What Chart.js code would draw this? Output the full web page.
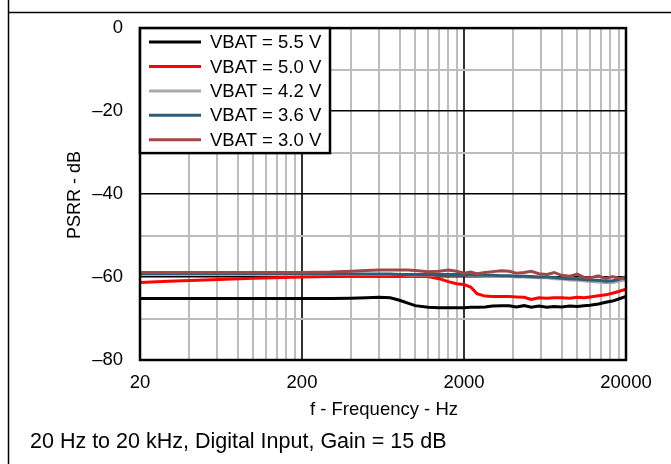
<!DOCTYPE html>
<html>
<head>
<meta charset="utf-8">
<script src="https://cdn.jsdelivr.net/npm/chart.js@4.4.1/dist/chart.umd.min.js"></script>
<style>
  html, body { margin: 0; padding: 0; background: #fff; }
  #graph { display: block; }
</style>
</head>
<body>
<canvas id="graph" width="671" height="464"></canvas>
<script>
// frequency points (Hz) shared by every curve
const freqs = [20, 30, 50, 100, 200, 300, 400, 500, 600, 700, 800, 900, 1000, 1200, 1400, 1600, 1800, 2000,
  2200, 2400, 2700, 3000, 3400, 3800, 4200, 4700, 5200, 5800, 6500, 7200, 8000, 9000, 10000, 11000, 12000,
  13500, 15000, 16500, 18000, 20000];

// PSRR (dB)
const vbat55 = [-65.2, -65.2, -65.2, -65.2, -65.2, -65.2, -65.1, -65.0, -64.9, -65.0, -65.6, -66.3, -66.9, -67.3,
  -67.4, -67.4, -67.4, -67.4, -67.3, -67.3, -67.2, -67.0, -66.9, -66.9, -67.2, -66.9, -67.3, -67.0, -67.3, -67.1,
  -67.2, -67.0, -67.1, -66.9, -66.8, -66.5, -66.1, -65.8, -65.3, -64.7];
const vbat50 = [-61.3, -61.0, -60.7, -60.3, -60.0, -59.9, -59.8, -59.8, -59.8, -59.8, -59.8, -59.8, -59.8, -59.9,
  -60.4, -61.1, -61.6, -61.8, -62.4, -64.0, -64.6, -64.7, -64.7, -64.7, -64.8, -64.9, -65.4, -65.0, -65.1, -65.0,
  -65.0, -65.1, -64.9, -65.0, -64.8, -64.5, -64.3, -63.9, -63.5, -62.9];
const vbat42 = [-59.3, -59.3, -59.3, -59.3, -59.3, -59.3, -59.4, -59.4, -59.4, -59.4, -59.4, -59.5, -59.5, -59.5,
  -59.5, -59.5, -59.5, -59.5, -59.6, -59.6, -59.8, -59.8, -59.9, -59.8, -60.0, -60.0, -60.1, -60.2, -60.2, -60.4,
  -60.5, -60.7, -60.8, -60.9, -61.1, -61.2, -61.4, -61.3, -61.0, -60.6];
const vbat36 = [-59.2, -59.2, -59.2, -59.2, -59.2, -59.2, -59.3, -59.3, -59.3, -59.3, -59.4, -59.4, -59.4, -59.4,
  -59.4, -59.4, -59.4, -59.4, -59.4, -59.5, -59.6, -59.6, -59.7, -59.7, -59.8, -59.8, -59.9, -60.0, -60.0, -60.1,
  -60.3, -60.4, -60.5, -60.6, -60.7, -60.8, -61.0, -60.9, -60.6, -59.9];
const vbat30 = [-58.9, -58.9, -58.9, -58.9, -58.9, -58.8, -58.6, -58.4, -58.3, -58.3, -58.3, -58.3, -58.4, -58.7,
  -58.6, -58.3, -58.6, -59.1, -58.8, -59.2, -58.9, -58.7, -58.5, -58.6, -59.1, -58.9, -58.6, -59.2, -59.4, -58.9,
  -59.6, -59.8, -59.3, -60.1, -60.2, -59.7, -60.4, -59.9, -60.3, -60.5];

const seriesLabels = ['VBAT = 5.5 V', 'VBAT = 5.0 V', 'VBAT = 4.2 V', 'VBAT = 3.6 V', 'VBAT = 3.0 V'];
const seriesColors = ['#000000', '#ff0000', '#a8a8a8', '#2b5d7a', '#a04848'];
const seriesData = [vbat55, vbat50, vbat42, vbat36, vbat30];
const drawOrder = [4, 3, 2, 1, 0];

// grid positions and labels
const xTicks = [20, 40, 60, 80, 100, 120, 140, 160, 180, 200, 400, 600, 800, 1000, 1200, 1400, 1600, 1800,
  2000, 4000, 6000, 8000, 10000, 12000, 14000, 16000, 18000, 20000];
const xLabels = [20, 200, 2000, 20000];
const yTicks = [-80, -70, -60, -50, -40, -30, -20, -10, 0];

const FONT = "'Liberation Sans', Arial, sans-serif";

const decor = {
  id: 'decor',
  afterDraw(c) {
    const ctx = c.ctx, a = c.chartArea;
    ctx.save();
    // outer frame
    ctx.strokeStyle = '#000';
    ctx.lineWidth = 1.5;
    ctx.beginPath();
    ctx.moveTo(8.5, 0); ctx.lineTo(8.5, 464);
    ctx.moveTo(8, 12.5); ctx.lineTo(671, 12.5);
    ctx.stroke();

    // plot border
    ctx.lineWidth = 2.5;
    ctx.strokeRect(a.left, a.top, a.right - a.left, a.bottom - a.top);

    // legend box
    const lx = a.left, ly = a.top, lw = 190, lh = 125;
    ctx.fillStyle = '#fff';
    ctx.fillRect(lx, ly, lw, lh);
    ctx.strokeRect(lx, ly, lw, lh);
    ctx.font = '18.5px ' + FONT;
    ctx.textBaseline = 'middle';
    ctx.textAlign = 'left';
    seriesLabels.forEach((lab, i) => {
      const y = ly + 14 + i * 24.4;
      ctx.strokeStyle = seriesColors[i];
      ctx.lineWidth = 3;
      ctx.beginPath();
      ctx.moveTo(lx + 9, y); ctx.lineTo(lx + 61, y);
      ctx.stroke();
      ctx.fillStyle = '#000';
      ctx.fillText(lab, lx + 70, y + 1);
    });

    // axis titles and footer
    ctx.fillStyle = '#000';
    ctx.textAlign = 'center';
    ctx.font = '18.5px ' + FONT;
    ctx.fillText('f - Frequency - Hz', 384, 410);
    ctx.save();
    ctx.translate(75, 195);
    ctx.rotate(-Math.PI / 2);
    ctx.font = '18px ' + FONT;
    ctx.fillText('PSRR - dB', 0, 0);
    ctx.restore();
    ctx.textAlign = 'left';
    ctx.font = '21.5px ' + FONT;
    ctx.fillText('20 Hz to 20 kHz, Digital Input, Gain = 15 dB', 30, 442);
    ctx.restore();
  }
};

const ctx = document.getElementById('graph').getContext('2d');
const chart = new Chart(ctx, {
  type: 'line',
  data: {
    datasets: seriesData.map((vals, i) => ({
      label: seriesLabels[i],
      data: vals.map((v, j) => ({ x: freqs[j], y: v })),
      borderColor: seriesColors[i],
      borderWidth: 3,
      pointRadius: 0,
      tension: 0,
      fill: false,
      order: drawOrder[i]
    }))
  },
  options: {
    responsive: false,
    animation: false,
    devicePixelRatio: 1,
    layout: { padding: { left: 0, right: 45, top: 28, bottom: 0 } },
    plugins: { legend: { display: false }, tooltip: { enabled: false } },
    scales: {
      x: {
        type: 'logarithmic',
        min: 20,
        max: 20000,
        afterBuildTicks: s => { s.ticks = xTicks.map(v => ({ value: v })); },
        afterFit: s => { s.height = 104; },
        border: { display: false },
        grid: {
          drawTicks: false,
          lineWidth: 2,
          color: c => (c.tick && xLabels.includes(c.tick.value)) ? '#333' : '#bdbdbd'
        },
        ticks: {
          autoSkip: false,
          maxRotation: 0,
          minRotation: 0,
          padding: 12,
          color: '#000',
          font: { family: FONT, size: 18.5 },
          callback: v => xLabels.includes(v) ? String(v) : ''
        }
      },
      y: {
        min: -80,
        max: 0,
        afterBuildTicks: s => { s.ticks = yTicks.map(v => ({ value: v })); },
        afterFit: s => { s.width = 140; },
        border: { display: false },
        grid: {
          drawTicks: false,
          lineWidth: c => (c.tick && c.tick.value % 20 === 0) ? 1.5 : 2,
          color: c => (c.tick && c.tick.value % 20 === 0) ? '#000' : '#bdbdbd'
        },
        ticks: {
          padding: 17,
          color: '#000',
          font: { family: FONT, size: 18.5 },
          callback: v => v % 20 === 0 ? (v < 0 ? '\u2013' + Math.abs(v) : String(v)) : ''
        }
      }
    }
  },
  plugins: [decor]
});
</script>
</body>
</html>
